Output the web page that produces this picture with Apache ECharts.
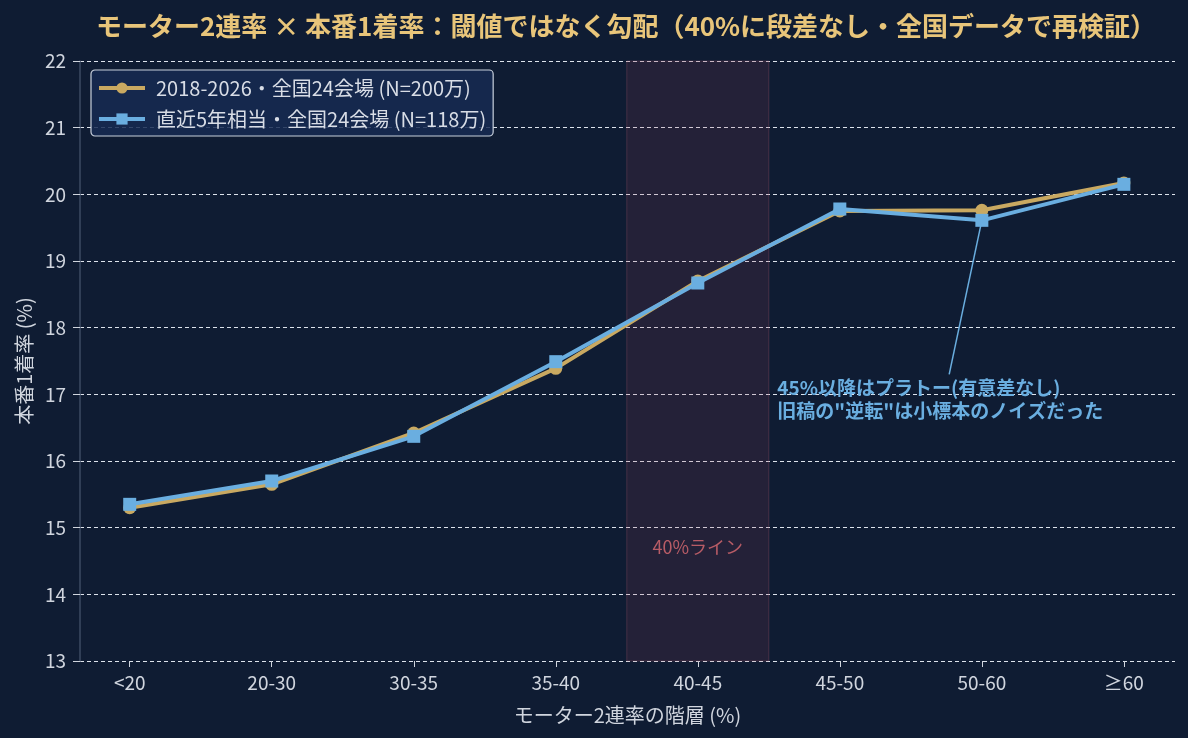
<!DOCTYPE html>
<html><head><meta charset="utf-8">
<script src="https://cdn.jsdelivr.net/npm/echarts@6/dist/echarts.min.js"></script>
<style>html,body{margin:0;padding:0;background:#0f1c33}#c{width:1188px;height:738px}</style>
</head><body><div id="c"></div>
<script>
const categories = ['<20','20-30','30-35','35-40','40-45','45-50','50-60','≥60'];
const seriesAll = [15.30, 15.65, 16.42, 17.39, 18.70, 19.75, 19.76, 20.17];
const seriesRecent = [15.35, 15.70, 16.37, 17.49, 18.67, 19.78, 19.61, 20.15];
const seriesNames = ['2018-2026・全国24会場 (N=200万)', '直近5年相当・全国24会場 (N=118万)'];
const yTicks = [13,14,15,16,17,18,19,20,21,22];

const font = '"Noto Sans CJK JP", "Noto Sans", sans-serif';
const idx = categories.map((_, i) => i);
const chart = echarts.init(document.getElementById('c'));
chart.setOption({
  backgroundColor: '#0f1c33',
  animation: false,
  textStyle: {fontFamily: font},
  title: {
    text: 'モーター2連率 × 本番1着率：閾値ではなく勾配（40%に段差なし・全国データで再検証）',
    left: 621, top: 8, textAlign: 'center',
    textStyle: {color: '#e8c57a', fontSize: 26, fontWeight: 'bold', fontFamily: font}
  },
  legend: {
    orient: 'vertical', left: 91, top: 70,
    backgroundColor: 'rgba(22,42,82,0.85)', borderColor: '#c8d0dc', borderWidth: 1.2, borderRadius: 4,
    padding: [5, 7, 4, 6], itemGap: 5, itemWidth: 46, itemHeight: 14,
    lineStyle: {width: 4},
    textStyle: {color: '#d8dde6', fontSize: 20, lineHeight: 26, fontFamily: font, padding: [0, 0, 0, 6]},
    data: seriesNames
  },
  grid: {left: 80, right: 13, top: 61, bottom: 77},
  xAxis: {
    type: 'value', min: -0.35, max: 7.36,
    name: 'モーター2連率の階層 (%)', nameLocation: 'middle', nameGap: 44,
    nameTextStyle: {color: '#d0d5de', fontSize: 20, fontFamily: font},
    axisLine: {show: false, onZero: false},
    axisTick: {show: true, customValues: idx, length: 6, lineStyle: {color: '#d0d5de'}},
    axisLabel: {customValues: idx, color: '#d0d5de', fontSize: 19, margin: 12,
      formatter: v => categories[Math.round(v)] ?? ''},
    splitLine: {show: false}
  },
  yAxis: {
    type: 'value', min: yTicks[0], max: yTicks[yTicks.length-1], interval: 1,
    name: '本番1着率 (%)', nameLocation: 'middle', nameGap: 45,
    nameTextStyle: {color: '#d0d5de', fontSize: 20, fontFamily: font},
    axisLine: {show: true, onZero: false, lineStyle: {color: '#3d4a63', width: 1.5}},
    axisTick: {show: true, length: 7, lineStyle: {color: '#d0d5de'}},
    axisLabel: {color: '#d0d5de', fontSize: 19, margin: 14},
    splitLine: {show: true, lineStyle: {color: '#dde3ec', type: [4, 3], width: 1.2}}
  },
  series: [
    {
      name: seriesNames[0], type: 'line', data: seriesAll.map((v, i) => [i, v]),
      symbol: 'circle', symbolSize: 13, z: 3,
      lineStyle: {color: '#c9a961', width: 4}, itemStyle: {color: '#c9a961'},
      markArea: {
        silent: true,
        itemStyle: {color: 'rgba(150,60,90,0.16)', borderColor: 'rgba(170,90,110,0.3)', borderWidth: 1},
        data: [[{xAxis: 3.5}, {xAxis: 4.5}]]
      },
      markPoint: {
        symbol: 'circle', symbolSize: 0, silent: true,
        label: {show: true, formatter: '40%ライン', color: '#b85c66', fontSize: 18, fontFamily: font},
        data: [{coord: [4, 14.71]}]
      }
    },
    {
      name: seriesNames[1], type: 'line', data: seriesRecent.map((v, i) => [i, v]),
      symbol: 'rect', symbolSize: 13, z: 4,
      lineStyle: {color: '#6aaee0', width: 4}, itemStyle: {color: '#6aaee0'},
      markLine: {
        silent: true, symbol: ['none', 'none'],
        lineStyle: {color: '#6aaee0', width: 1.5, type: 'solid'},
        label: {show: false},
        data: [[{coord: [5.77, 17.30]}, {coord: [6, 19.61]}]]
      },
      markPoint: {
        symbol: 'circle', symbolSize: 0, silent: true,
        label: {show: true, position: 'right', distance: 0, align: 'left',
          formatter: '45%以降はプラトー(有意差なし)\n旧稿の"逆転"は小標本のノイズだった',
          color: '#6aaee0', fontSize: 19, fontWeight: 'bold', lineHeight: 23, fontFamily: font},
        data: [{coord: [4.56, 16.92]}]
      }
    }
  ]
});
</script></body></html>
